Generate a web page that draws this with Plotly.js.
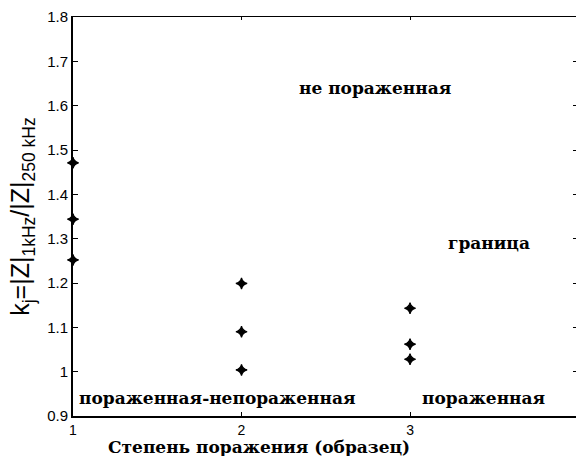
<!DOCTYPE html>
<html>
<head>
<meta charset="utf-8">
<script src="https://cdn.plot.ly/plotly-3.0.1.min.js"></script>
<style>html,body{margin:0;padding:0;background:#fff;}</style>
</head>
<body>
<div id="chart" style="width:576px;height:456px;"></div>
<script>
// Data
const sampleX = [1, 1, 1, 2, 2, 2, 3, 3, 3];
const kValues = [1.471, 1.344, 1.252, 1.199, 1.090, 1.004, 1.143, 1.062, 1.028];
const xTicks = [1, 2, 3];
const yTicks = [0.9, 1.0, 1.1, 1.2, 1.3, 1.4, 1.5, 1.6, 1.7, 1.8];
const regionLabels = ["не пораженная", "граница", "пораженная-непораженная", "пораженная"];
const regionX = [2.79, 3.47, 1.855, 3.436];
const regionY = [1.64, 1.29, 0.94, 0.94];
const xTitle = "Степень поражения (образец)";
const yTitle = "k<sub>j</sub>=|Z|<sub>1kHz</sub>/|Z|<sub>250 kHz</sub>";

const xRange = [1, 3.985];
const yRange = [0.9, 1.8];
const serif = "DejaVu Serif, serif";

const traces = [
  {
    x: sampleX, y: kValues, type: "scatter", mode: "markers",
    marker: {symbol: "star-diamond", size: 8, color: "#000", line: {width: 1.2, color: "#000"}},
    hoverinfo: "skip", showlegend: false, cliponaxis: false
  },
  { x: [], y: [], xaxis: "x2", yaxis: "y2", type: "scatter", mode: "markers", showlegend: false }
];

const annotations = regionLabels.map((t, i) => ({
  text: t, x: regionX[i], y: regionY[i], xref: "x", yref: "y",
  showarrow: false, xanchor: "center", yanchor: "middle",
  font: {family: serif, size: 17, color: "#000", weight: "bold"}
}));
annotations.push({
  text: xTitle, xref: "paper", yref: "paper", x: 0.37, y: -0.077,
  showarrow: false, xanchor: "center", yanchor: "middle",
  font: {family: serif, size: 17, color: "#000", weight: "bold"}
});

const layout = {
  width: 576, height: 456,
  margin: {l: 73, r: 0, t: 17, b: 40, pad: 0},
  paper_bgcolor: "#fff", plot_bgcolor: "#fff",
  showlegend: false,
  font: {family: "Liberation Sans, Arial, sans-serif", color: "#000"},
  xaxis: {
    range: xRange, tickvals: xTicks, ticktext: xTicks.map(String),
    ticks: "inside", ticklen: 4, tickwidth: 1, tickcolor: "#000",
    showline: true, linewidth: 2, linecolor: "#000",
    showgrid: false, zeroline: false,
    tickfont: {size: 14, family: "Liberation Sans, Arial, sans-serif"},
  },
  yaxis: {
    range: yRange, tickvals: yTicks, ticktext: yTicks.map(v => String(+v.toFixed(1))),
    ticks: "inside", ticklen: 5, tickwidth: 1, tickcolor: "#000",
    showline: true, linewidth: 2, linecolor: "#000",
    showgrid: false, zeroline: false,
    tickfont: {size: 15, family: "Liberation Sans, Arial, sans-serif"},
    title: {text: yTitle, font: {size: 25, family: "Liberation Sans, Arial, sans-serif"}, standoff: 10}
  },
  xaxis2: {
    overlaying: "x", side: "top", range: xRange, tickvals: xTicks,
    ticks: "inside", ticklen: 3, tickwidth: 1, tickcolor: "#000",
    showticklabels: false, showline: true, linewidth: 1, linecolor: "#000",
    showgrid: false, zeroline: false
  },
  yaxis2: {
    overlaying: "y", side: "right", range: yRange, tickvals: yTicks,
    ticks: "inside", ticklen: 3, tickwidth: 1, tickcolor: "#000",
    showticklabels: false, showline: false,
    showgrid: false, zeroline: false
  },
  annotations: annotations
};

Plotly.newPlot("chart", traces, layout, {displayModeBar: false, staticPlot: true});
</script>
</body>
</html>
